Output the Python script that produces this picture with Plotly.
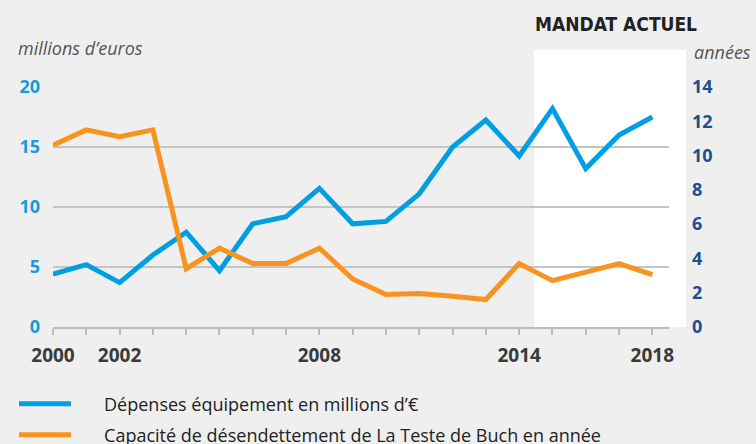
import plotly.graph_objects as go

years = list(range(2000, 2019))
depenses = [4.4, 5.2, 3.7, 6.0, 7.9, 4.7, 8.6, 9.2, 11.55, 8.6, 8.8, 11.1, 15.0, 17.25, 14.25, 18.2, 13.2, 16.0, 17.5]
capacite = [10.6, 11.5, 11.1, 11.5, 3.4, 4.6, 3.7, 3.7, 4.6, 2.8, 1.9, 1.95, 1.8, 1.6, 3.7, 2.7, 3.2, 3.7, 3.05]
x_labels = {2000: "2000", 2002: "2002", 2008: "2008", 2014: "2014", 2018: "2018"}
name_dep = "Dépenses équipement en millions d’€"
name_cap = "Capacité de désendettement de La Teste de Buch en année"

BLUE = "#009fe3"
ORANGE = "#f7931e"
BG = "#efefef"
FONT = "Open Sans"
LEG_FONT = "Open Sans"
PAD = "\u00a0" * 6

fig = go.Figure()
fig.add_trace(go.Scatter(x=years, y=depenses, mode="lines", name=PAD + name_dep,
                         line=dict(color=BLUE, width=5), yaxis="y", legend="legend"))
fig.add_trace(go.Scatter(x=years, y=capacite, mode="lines", name=PAD + name_cap,
                         line=dict(color=ORANGE, width=5), yaxis="y2", legend="legend2"))

W, H = 756, 444
L, R, T, B = 53, 669, 87, 327
fig.update_layout(
    width=W, height=H,
    margin=dict(l=L, r=W - R, t=T, b=H - B),
    paper_bgcolor=BG, plot_bgcolor="rgba(0,0,0,0)",
    font=dict(family=FONT, color="#333"),
    xaxis=dict(range=[2000, 2018.5], tickmode="array", tickvals=years,
               ticktext=[x_labels.get(y, "") for y in years],
               ticks="outside", ticklen=6, tickcolor="#bbbbbb", tickwidth=1.5,
               showline=True, linecolor="#bbbbbb", linewidth=1.5,
               showgrid=False, zeroline=False,
               tickfont=dict(size=19, color="#3a3a3a", weight="bold"),
               ticklabelstandoff=4),
    yaxis=dict(range=[0, 20], tickvals=[0, 5, 10, 15, 20],
               showgrid=True, gridcolor="#c4c4c4", gridwidth=1.5,
               zeroline=False, showline=False,
               tickfont=dict(size=18, color="#1a9bd7", weight="bold"),
               ticklabelstandoff=12),
    yaxis2=dict(range=[0, 14], tickvals=[0, 2, 4, 6, 8, 10, 12, 14],
                overlaying="y", side="right", showgrid=False, zeroline=False,
                showline=False,
                tickfont=dict(size=18, color="#1f4e8c", weight="bold"),
                ticklabelstandoff=22),
    showlegend=True,
    legend=dict(xref="container", yref="container", x=14 / W, y=1 - 404 / H,
                orientation="h",
                xanchor="left", yanchor="middle", bgcolor="rgba(0,0,0,0)",
                font=dict(size=18, color="#222", family=LEG_FONT), itemwidth=52),
    legend2=dict(xref="container", yref="container", x=14 / W, y=1 - 435 / H,
                 orientation="h",
                 xanchor="left", yanchor="middle", bgcolor="rgba(0,0,0,0)",
                 font=dict(size=18, color="#222", family=LEG_FONT), itemwidth=52),
)

pw = R - L
ph = B - T
def px_x(px):
    return (px - L) / pw
def px_y(py):
    return (B - py) / ph

fig.add_shape(type="rect", xref="paper", yref="paper",
              x0=px_x(534), x1=px_x(686), y0=0, y1=px_y(50),
              fillcolor="white", line=dict(width=0), layer="below")

fig.add_annotation(text="millions d’euros", xref="paper", yref="paper",
                   x=px_x(16), y=px_y(48), xanchor="left", yanchor="middle",
                   showarrow=False, font=dict(size=18, color="#555", style="italic"))
fig.add_annotation(text="années", xref="paper", yref="paper",
                   x=px_x(692), y=px_y(52), xanchor="left", yanchor="middle",
                   showarrow=False, font=dict(size=18, color="#555", style="italic"))
fig.add_annotation(text="MANDAT ACTUEL", xref="paper", yref="paper",
                   x=px_x(533), y=px_y(24), xanchor="left", yanchor="middle",
                   showarrow=False, font=dict(size=19, color="#222", weight="bold",
                                              family="DejaVu Sans Condensed"))

fig.write_html("out.html", config={"displayModeBar": False},
               post_script="document.body.style.margin='0';")
